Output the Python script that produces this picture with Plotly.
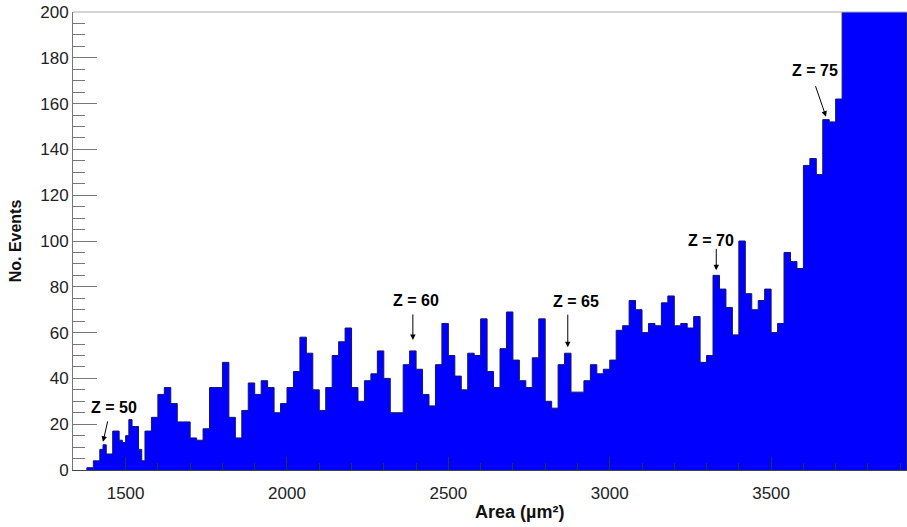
import numpy as np
import plotly.graph_objects as go

# ---------------- data ----------------
# fine binning (10 um^2 bins) from 1380 to 1560
fine_start, fine_width = 1380, 10
counts_fine = [1, 1, 4, 4, 9, 11, 7, 7, 17, 17, 13, 12, 15, 22, 19, 19, 9, 4]

# coarse binning (20 um^2 bins) from 1560 on
coarse_start, coarse_width = 1560, 20
counts_coarse = [
    17, 23, 33, 36, 29, 21, 21, 14, 13, 18,
    36, 36, 47, 23, 14, 26, 38, 33, 39, 36,
    25, 29, 36, 43, 58, 51, 35, 26, 36, 50,
    56, 62, 36, 30, 39, 42, 52, 40, 25, 25,
    46, 52, 44, 33, 28, 46, 64, 50, 41, 35,
    51, 50, 66, 43, 36, 53, 69, 48, 39, 36,
    49, 66, 30, 27, 46, 51, 34, 34, 39, 46,
    42, 44, 48, 61, 63, 74, 70, 60, 64, 63,
    73, 76, 63, 64, 62, 67, 47, 50, 85, 79,
    71, 59, 100, 77, 70, 74, 79, 60, 64, 95,
    91, 88, 133, 136, 129, 153, 152, 162,
    214, 238, 255, 281, 302, 330, 356, 379, 402, 431,
]

# charge labels and the bin (centre) they point to
z_labels = ["Z = 50", "Z = 60", "Z = 65", "Z = 70", "Z = 75"]
z_bins = [1430, 2390, 2870, 3330, 3670]

x_ticks = [1500, 2000, 2500, 3000, 3500]
y_ticks = [0, 20, 40, 60, 80, 100, 120, 140, 160, 180, 200]

# ---------------- build histogram ----------------
edges_fine = fine_start + fine_width * np.arange(len(counts_fine))
edges_coarse = coarse_start + coarse_width * np.arange(len(counts_coarse))
left_edges = np.concatenate([edges_fine, edges_coarse])
counts = np.array(counts_fine + counts_coarse, dtype=float)
right_end = edges_coarse[-1] + coarse_width

xs = [left_edges[0]] + list(left_edges) + [right_end, right_end]
ys = [0] + list(counts) + [counts[-1], 0]

fig = go.Figure()
fig.add_trace(go.Scatter(
    x=xs, y=ys, mode="lines", line=dict(shape="hv", color="#14146e", width=1),
    fill="tozeroy", fillcolor="rgb(0,0,255)", hoverinfo="skip",
))

# ---------------- annotations ----------------
def count_at(xv):
    i = np.searchsorted(left_edges, xv, side="right") - 1
    return counts[i]

gaps = [3, 11, 6, 5, 3]                                   # px gap between arrow tip and bar top
text_off = [(11, -34), (3, -39), (8, -46), (-5, -30), (-11, -46)]   # text centre vs tip (px)
tail_off = [(5, -22), (0, -27), (0, -34), (0, -23), (-11, -32)]     # arrow tail vs tip (px)
annots = []
for lab, xb, g, (tx, ty), (ax, ay) in zip(z_labels, z_bins, gaps, text_off, tail_off):
    c = count_at(xb)
    annots.append(dict(x=xb, y=c, xref="x", yref="y", text="", showarrow=True,
                       ax=ax, ay=ay, yshift=g, arrowhead=2, arrowsize=1.1, arrowwidth=1,
                       arrowcolor="black", standoff=0))
    annots.append(dict(x=xb, y=c, xref="x", yref="y", text="<b>" + lab + "</b>",
                       showarrow=False, xshift=tx, yshift=g - ty,
                       font=dict(family="Liberation Sans, Arial", size=16, color="black")))

annots.append(dict(x=(519 - 73) / 834, y=(470 - 512) / 458, xref="paper", yref="paper",
                   text="<b>Area (µm²)</b>", showarrow=False, xanchor="center", yanchor="middle",
                   font=dict(family="Liberation Sans, Arial", size=18, color="#111")))

fig.update_layout(
    width=907, height=527,
    margin=dict(l=73, r=0, t=12, b=57),
    plot_bgcolor="white", paper_bgcolor="white",
    showlegend=False,
    font=dict(family="Liberation Sans, Arial", size=17, color="#222"),
    annotations=annots,
    shapes=[dict(type="line", xref="paper", yref="paper", x0=0, x1=1, y0=1, y1=1,
                 line=dict(color="#aaaaaa", width=1))],
)
fig.update_xaxes(
    range=[1337, 3921], showgrid=False, zeroline=False,
    showline=True, linecolor="#444", linewidth=1,
    tickmode="array", tickvals=x_ticks, ticktext=[str(v) for v in x_ticks],
    ticks="inside", ticklen=13, tickcolor="#333", tickwidth=1,
    minor=dict(dtick=100, tick0=1500, ticks="inside", ticklen=7, tickcolor="#333"),
    ticklabelstandoff=8,
)
fig.update_yaxes(
    range=[0, 200], showgrid=False, zeroline=False,
    showline=True, linecolor="#777", linewidth=1,
    tickmode="array", tickvals=y_ticks, ticktext=[str(v) for v in y_ticks],
    ticks="inside", ticklen=24, tickcolor="#777", tickwidth=1,
    minor=dict(dtick=5, tick0=0, ticks="inside", ticklen=12, tickcolor="#777"),
    title=dict(text="<b>No. Events</b>", font=dict(size=16, color="#111"), standoff=14),
)

fig.write_html("out.html")
